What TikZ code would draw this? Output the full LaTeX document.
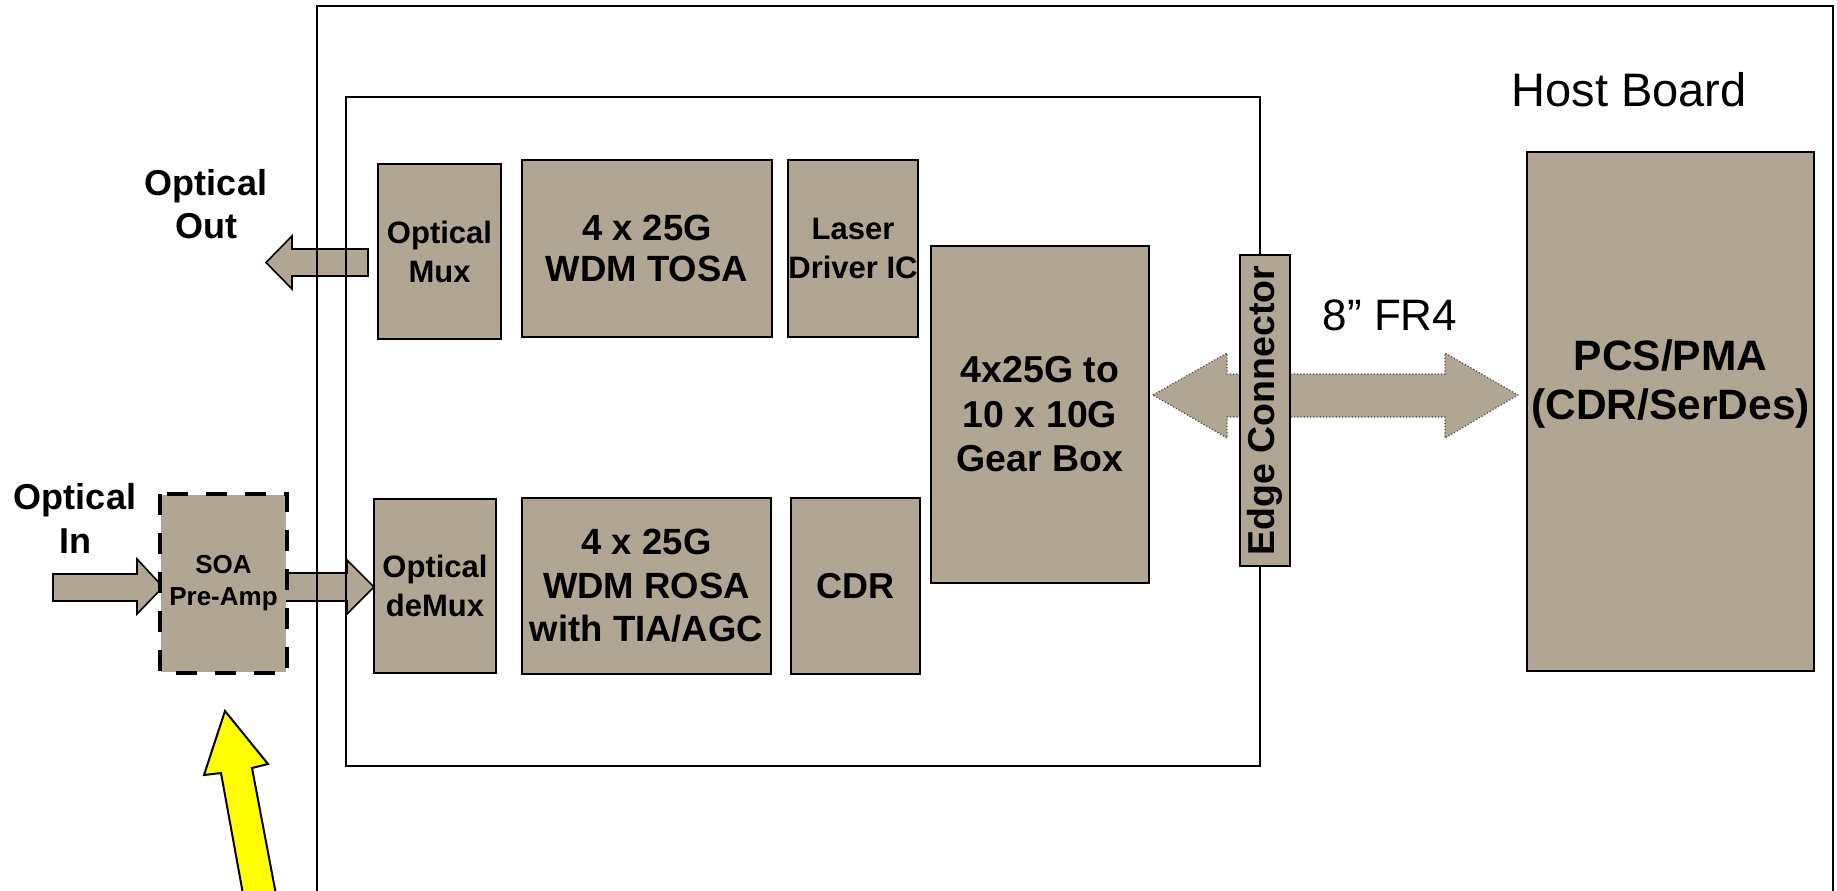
\documentclass[tikz,border=0pt]{standalone}
\usepackage{fontspec}
\setmainfont{Liberation Sans}
\usetikzlibrary{calc}
\definecolor{tanbox}{RGB}{177,166,147}
\definecolor{ylw}{RGB}{255,255,0}
\pgfdeclarelayer{background}
\pgfdeclarelayer{arrowlayer}
\pgfdeclarelayer{framelayer}
\pgfsetlayers{background,arrowlayer,framelayer,main}
\begin{document}
\begin{tikzpicture}[x=1pt,y=-1pt,
  box/.style={draw=black, fill=tanbox, line width=2.2pt, inner sep=0pt, align=center,
              font=\bfseries\fontsize{36}{42}\selectfont},
  smallbox/.style={box, font=\bfseries\fontsize{31}{39}\selectfont},
  framebox/.style={draw=black, line width=2pt},
  blockarrow/.style={draw=black, fill=tanbox, line width=1.6pt, line join=miter},
  fatarrow/.style={draw=black!70, fill=tanbox, line width=1.2pt, dotted},
  yarrow/.style={draw=black, fill=ylw, line width=2pt, line join=miter},
  lbl/.style={inner sep=0pt, align=center, font=\bfseries\fontsize{36}{43}\selectfont},
  plainlbl/.style={inner sep=0pt, align=center}]

\clip (0,0) rectangle (1837,891);
\begin{pgfonlayer}{background}
  \fill[white] (0,0) rectangle (1837,891);
\end{pgfonlayer}

% ---------- boxes ----------
\node[smallbox, minimum width=123, minimum height=175] (mux) at (439.5,251.5) {Optical\\Mux};
\node[box, minimum width=250, minimum height=177, font=\bfseries\fontsize{36.5}{41}\selectfont] (tosa) at (647,248.5) {4 x 25G\\WDM TOSA};
\node[smallbox, minimum width=130, minimum height=177] (laser) at (853,248.5) {Laser\\Driver IC};
\node[box, minimum width=218, minimum height=337, font=\bfseries\fontsize{37.5}{44.5}\selectfont] (gear) at (1040,414.5) {4x25G to\\10 x 10G\\Gear Box};
\node[smallbox, minimum width=122, minimum height=174] (demux) at (435,586) {Optical\\deMux};
\node[box, minimum width=249, minimum height=176, font=\bfseries\fontsize{36.5}{43.5}\selectfont] (rosa) at (646.5,586) {4 x 25G\\WDM ROSA\\with TIA/AGC};
\node[box, minimum width=129, minimum height=176] (cdr) at (855.5,586) {CDR};
\node[box, draw=none, minimum width=125, minimum height=177, font=\bfseries\fontsize{26}{32}\selectfont] (soa) at (223.5,583.5) {SOA\\Pre-Amp};
\draw[line width=4.5pt, dash pattern=on 21pt off 18pt] (soa.north west) rectangle (soa.south east);
\node[box, minimum width=287, minimum height=519] (pcs) at (1670.5,411.5) {};
\node[lbl, font=\bfseries\fontsize{42.5}{49}\selectfont] (pcstext) at (1670.5,384) {PCS/PMA\\(CDR/SerDes)};
\node[box, rotate=90, minimum width=311, minimum height=50, font=\bfseries\fontsize{37.5}{42}\selectfont] (edge) at (1265,410.5) {Edge Connector};

% ---------- free labels ----------
\node[lbl] (outlbl) at (206,204) {Optical\\Out};
\node[lbl, font=\bfseries\fontsize{36}{44}\selectfont] (inlbl) at (75,518) {Optical\\In};
\node[plainlbl, font=\fontsize{47}{50}\selectfont] (host) at (1629,90) {Host Board};
\node[plainlbl, font=\fontsize{44}{50}\selectfont] (fr4) at (1390,315) {8” FR4};

% ---------- board frames ----------
\begin{pgfonlayer}{framelayer}
  \draw[framebox] (317,900) -- (317,6) -- (1833,6) -- (1833,900);
  \draw[framebox] (346,97) rectangle (1260,766);
\end{pgfonlayer}

% ---------- block arrows ----------
\begin{pgfonlayer}{arrowlayer}
  % optical out
  \draw[blockarrow] (368,249) -- (292,249) -- (292,236) -- (266,262.5) -- (292,289) -- (292,276) -- (368,276) -- cycle;
  % optical in
  \draw[blockarrow] (53,574) -- (137,574) -- (137,559) -- (163,587) -- (137,614) -- (137,601) -- (53,601) -- cycle;
  % SOA to demux
  \draw[blockarrow] (280,573) -- (347,573) -- (347,560) -- (374,587) -- (347,614) -- (347,601) -- (280,601) -- cycle;
  % 8" FR4 double arrow
  \draw[fatarrow] (1153,395) -- (1227,353) -- (1227,374) -- (1445,374) -- (1445,353) -- (1518,395)
     -- (1445,438) -- (1445,417) -- (1227,417) -- (1227,438) -- cycle;
\end{pgfonlayer}

% ---------- yellow pointer ----------
\draw[yarrow] (225,711) -- (268,764) -- (252,768) -- (278,905) -- (245,905) -- (221,773) -- (204,775) -- cycle;

\end{tikzpicture}
\end{document}
